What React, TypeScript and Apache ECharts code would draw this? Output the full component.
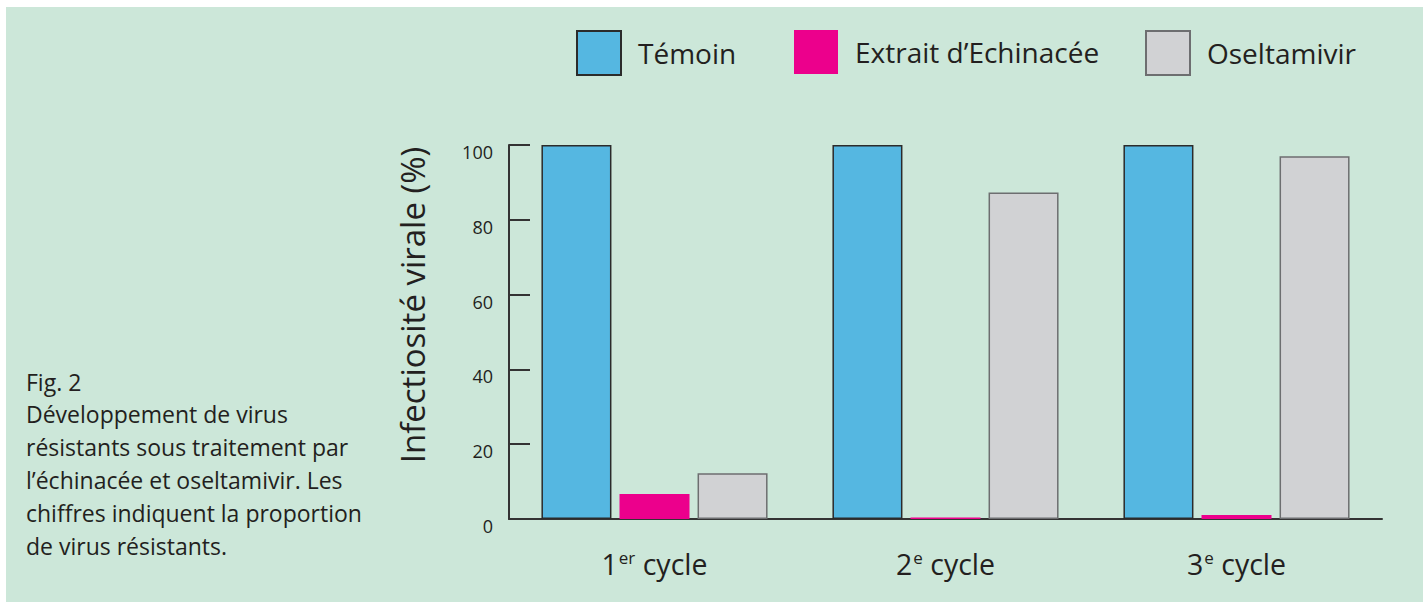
import React, { useEffect, useRef } from "react";
import * as echarts from "echarts";

const categories = ["1er", "2e", "3e"];
const seriesNames = ["Témoin", "Extrait d’Echinacée", "Oseltamivir"];
const temoin = [100, 100, 100];
const echinacee = [6.7, 0.4, 1.1];
const oseltamivir = [12.2, 87.3, 97];
const yTicks = [0, 20, 40, 60, 80, 100];
const captionLines = [
  "Fig. 2",
  "Développement de virus",
  "résistants sous traitement par",
  "l’échinacée et oseltamivir. Les",
  "chiffres indiquent la proportion",
  "de virus résistants.",
];

const FONT = "'Open Sans', 'Noto Sans', sans-serif";
const TEXT = "#231f20";

export default function App() {
  const ref = useRef<HTMLDivElement>(null);
  useEffect(() => {
    const chart = echarts.init(ref.current!, null, { renderer: "svg" });
    const colors = ["#55b7e1", "#ec008c", "#d1d2d4"];
    const borders = ["#2b2b2b", "#ec008c", "#6d6e70"];
    const values = [temoin, echinacee, oseltamivir];
    const legendLeft = [571, 789, 1140];
    chart.setOption({
      animation: false,
      backgroundColor: "#ffffff",
      textStyle: { fontFamily: FONT },
      graphic: [
        {
          type: "rect",
          z: -10,
          silent: true,
          shape: { x: 6, y: 7, width: 1417, height: 595 },
          style: { fill: "#cce7d9" },
        },
        ...captionLines.map((t, i) => ({
          type: "text",
          left: 26,
          top: 370 + i * 32.8,
          style: { text: t, fill: TEXT, font: `23px ${FONT}` },
        })),
      ],
      legend: seriesNames.map((n, i) => ({
        data: [{ name: n, icon: "rect" }],
        left: legendLeft[i],
        top: 25,
        itemWidth: 44,
        itemHeight: 44,
        itemGap: 0,
        textStyle: { fontSize: 28, color: TEXT, fontFamily: FONT, padding: [0, 0, 0, 12] },
        selectedMode: false,
      })),
      grid: { left: 509, right: 45, top: 145, bottom: 83 },
      xAxis: {
        type: "category",
        data: categories,
        axisLine: { lineStyle: { color: "#333", width: 2 } },
        axisTick: { inside: true, length: 9, lineStyle: { color: "#333", width: 2 } },
        axisLabel: {
          margin: 28,
          color: TEXT,
          formatter: (v: string) => {
            const num = v.charAt(0);
            const sup = v.slice(1);
            return `{n|${num}}{s|${sup}}{n| cycle}`;
          },
          rich: {
            n: { fontSize: 28.5, color: TEXT, fontFamily: FONT, lineHeight: 34 },
            s: { fontSize: 17, color: TEXT, fontFamily: FONT, lineHeight: 34, padding: [0, 0, 14, 1] },
          },
        },
      },
      yAxis: {
        type: "value",
        min: 0,
        max: 100,
        interval: 20,
        name: "Infectiosité virale (%)",
        nameLocation: "middle",
        nameGap: 80,
        nameTextStyle: { fontSize: 33, color: TEXT, fontFamily: FONT, padding: [0, 0, 0, 54] },
        splitLine: { show: false },
        axisLine: { show: true, lineStyle: { color: "#333", width: 2 } },
        axisTick: { show: true, inside: true, length: 21, lineStyle: { color: "#333", width: 2 } },
        axisLabel: {
          margin: 16,
          color: TEXT,
          fontSize: 18,
          lineHeight: 14,
          fontFamily: FONT,
          verticalAlign: "top",
          formatter: (v: number) => (yTicks.includes(v) ? String(v) : ""),
        },
      },
      series: seriesNames.map((n, i) => ({
        name: n,
        type: "bar",
        data: values[i],
        barWidth: 70,
        barGap: "11.5%",
        itemStyle: {
          color: colors[i],
          borderColor: borders[i],
          borderWidth: i === 1 ? 0 : 1.5,
        },
      })),
    });
    return () => chart.dispose();
  }, []);
  return (
    <div
      ref={ref}
      style={{ position: "fixed", left: 0, top: 0, width: 1427, height: 602 }}
    />
  );
}
